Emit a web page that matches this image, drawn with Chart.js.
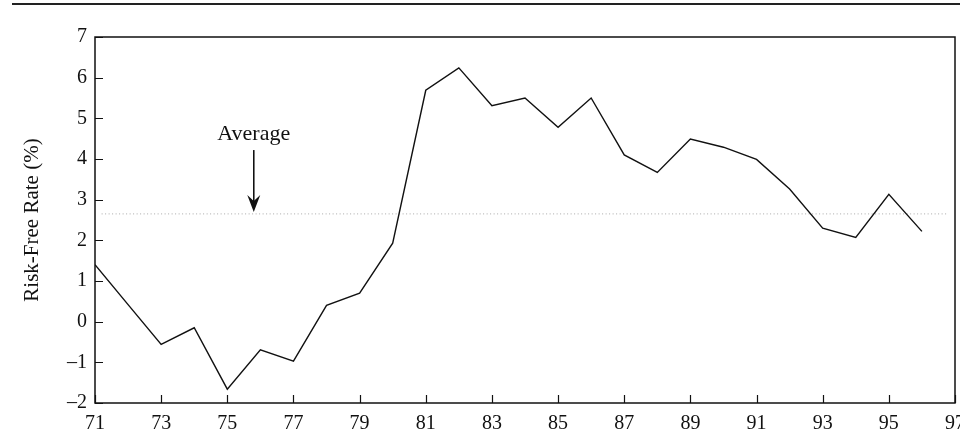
<!DOCTYPE html>
<html>
<head>
<meta charset="utf-8">
<script src="https://cdn.jsdelivr.net/npm/chart.js@4.4.1/dist/chart.umd.min.js"></script>
<style>
  body { margin: 0; background: #fff; }
  #wrap { position: relative; width: 960px; height: 447px; }
  #rule { position: absolute; top: 3px; left: 12px; right: 0; height: 2px; background: #222; }
</style>
</head>
<body>
<div id="wrap">
  <div id="rule"></div>
  <canvas id="myChart" width="960" height="447"></canvas>
</div>
<script>
// years (19xx) and risk-free rate
var years = [71, 72, 73, 74, 75, 76, 77, 78, 79, 80, 81, 82, 83, 84, 85, 86, 87, 88, 89, 90, 91, 92, 93, 94, 95, 96];
var rates = [1.40, 0.42, -0.56, -0.15, -1.66, -0.69, -0.97, 0.40, 0.70, 1.93, 5.69, 6.24, 5.31, 5.50, 4.78, 5.50, 4.10, 3.67, 4.49, 4.29, 3.99, 3.26, 2.30, 2.07, 3.13, 2.22];
var averageRate = 2.65;
var xTicks = [71, 73, 75, 77, 79, 81, 83, 85, 87, 89, 91, 93, 95, 97];
var yTicks = [-2, -1, 0, 1, 2, 3, 4, 5, 6, 7];
var noteLabel = 'Average';
var noteYear = 75.8;
var noteTextY = 4.6;
var noteArrowTop = 4.22;

var serif = "'Liberation Serif', 'DejaVu Serif', serif";

var points = [];
for (var i = 0; i < years.length; i++) {
    points.push({x: years[i], y: rates[i]});
}

var framePlugin = {
    id: 'frame',
    afterDraw: function(chart) {
        var c = chart.ctx;
        var a = chart.chartArea;
        var xs = chart.scales.x;
        var ys = chart.scales.y;
        c.save();
        c.strokeStyle = '#111';
        c.lineWidth = 1.5;
        c.strokeRect(a.left, a.top, a.right - a.left, a.bottom - a.top);
        c.lineWidth = 1.2;
        c.beginPath();
        xTicks.forEach(function(t) {
            var px = Math.round(xs.getPixelForValue(t)) + 0.5;
            c.moveTo(px, a.bottom);
            c.lineTo(px, a.bottom - 8);
        });
        yTicks.forEach(function(t) {
            var py = Math.round(ys.getPixelForValue(t)) + 0.5;
            c.moveTo(a.left, py);
            c.lineTo(a.left + 8, py);
        });
        c.stroke();

        // average note with arrow
        var nx = xs.getPixelForValue(noteYear);
        c.fillStyle = '#111';
        c.font = '22px ' + serif;
        c.textAlign = 'center';
        c.textBaseline = 'middle';
        c.fillText(noteLabel, nx, ys.getPixelForValue(noteTextY));
        var top = ys.getPixelForValue(noteArrowTop);
        var tip = ys.getPixelForValue(averageRate) - 2;
        c.lineWidth = 1.6;
        c.beginPath();
        c.moveTo(nx, top);
        c.lineTo(nx, tip - 8);
        c.stroke();
        c.beginPath();
        c.moveTo(nx, tip);
        c.lineTo(nx - 6.5, tip - 17);
        c.lineTo(nx, tip - 11);
        c.lineTo(nx + 6.5, tip - 17);
        c.closePath();
        c.fill();
        c.restore();
    }
};

var ctx = document.getElementById('myChart');
var myChart = new Chart(ctx, {
    type: 'line',
    data: {
        datasets: [
        {
            label: 'Risk-Free Rate',
            data: points,
            borderColor: '#111',
            borderWidth: 1.4,
            pointRadius: 0,
            tension: 0,
            fill: false
        },
        {
            label: 'Average',
            data: [{x: 71.2, y: averageRate}, {x: 96.8, y: averageRate}],
            borderColor: '#a8a8a8',
            borderWidth: 1,
            borderDash: [1, 2.5],
            pointRadius: 0,
            fill: false
        }]
    },
    options: {
        responsive: false,
        animation: false,
        layout: { padding: { left: 0, top: 37, right: 5, bottom: 0 } },
        plugins: {
            legend: { display: false },
            tooltip: { enabled: false }
        },
        scales: {
            x: {
                type: 'linear',
                min: 71,
                max: 97,
                border: { display: false },
                grid: { display: false, drawTicks: false },
                afterBuildTicks: function(scale) {
                    scale.ticks = xTicks.map(function(v) { return {value: v}; });
                },
                afterFit: function(scale) {
                    scale.height = 44;
                    scale.paddingLeft = 0;
                    scale.paddingRight = 0;
                },
                ticks: {
                    autoSkip: false,
                    maxRotation: 0,
                    padding: 9,
                    color: '#111',
                    font: { family: serif, size: 20 }
                }
            },
            y: {
                min: -2,
                max: 7,
                border: { display: false },
                grid: { display: false, drawTicks: false },
                afterBuildTicks: function(scale) {
                    scale.ticks = yTicks.map(function(v) { return {value: v}; });
                },
                afterFit: function(scale) {
                    scale.width = 95;
                    scale.paddingTop = 0;
                    scale.paddingBottom = 0;
                },
                title: {
                    display: true,
                    text: 'Risk-Free Rate (%)',
                    color: '#111',
                    font: { family: serif, size: 21 },
                    padding: { top: 20, bottom: 0 }
                },
                ticks: {
                    padding: 8,
                    color: '#111',
                    font: { family: serif, size: 20 },
                    callback: function(v) {
                        return v < 0 ? '\u2013' + Math.abs(v) : String(v);
                    }
                }
            }
        }
    },
    plugins: [framePlugin]
});
</script>
</body>
</html>
